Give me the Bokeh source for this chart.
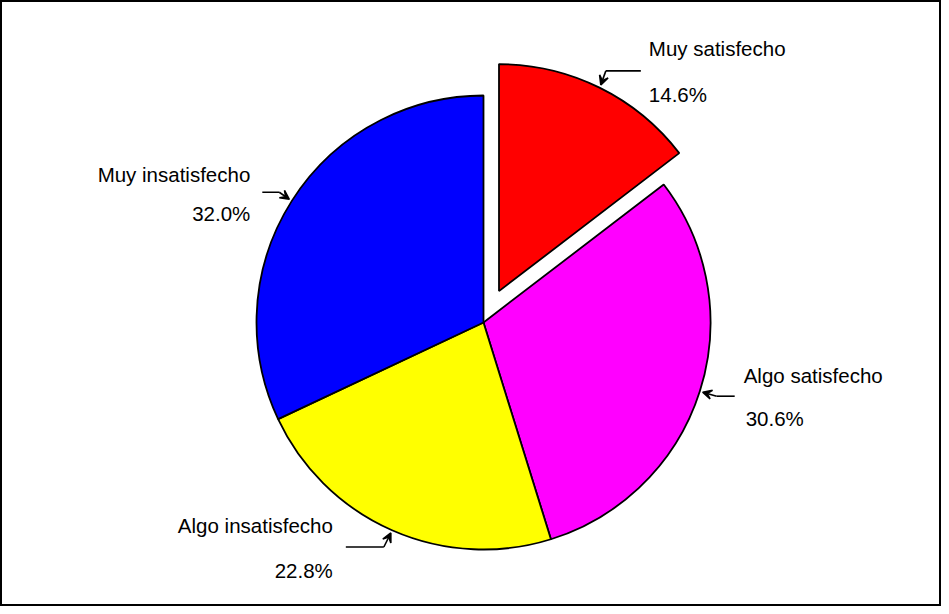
import math
from bokeh.plotting import figure
from bokeh.models import Range1d, Arrow, VeeHead, ColumnDataSource
from bokeh.core.properties import value
from bokeh.embed import file_html
from bokeh.resources import INLINE

# ---- data ----
categories = ["Muy satisfecho", "Algo satisfecho", "Algo insatisfecho", "Muy insatisfecho"]
percents = [14.6, 30.6, 22.8, 32.0]
colors = ["#FF0000", "#FF00FF", "#FFFF00", "#0000FF"]
exploded = [True, False, False, False]

# ---- layout (pixels) ----
W, H = 941, 606
CX, CY = 483, 284          # pie centre
R = 227                    # pie radius
EXPLODE = 35               # offset of the exploded slice
FONT = "Liberation Sans"
FS = "20.5px"
# per slice: elbow offset from arrow tip, horizontal run, text offsets
elbow_off = [(5, 14), (14, -4), (-7, -14), (-10, 7)]
run = [35, 18, -38, -17]
text_dx = [8, 9, -13, -12]
text_dy1 = [22, 21, 22, 18]     # name above the line
text_dy2 = [-24, -22, -23, -21] # percent below the line

p = figure(width=W, height=H, output_backend="svg", toolbar_location=None,
           x_range=Range1d(0, W), y_range=Range1d(0, H), min_border=0)
p.axis.visible = False
p.grid.visible = False
p.background_fill_color = "white"
p.border_fill_color = "white"
p.outline_line_color = "black"
p.outline_line_width = 3

total = sum(percents)
cum = 0.0
xs, ys, starts, ends = [], [], [], []
tips = []
for v, ex in zip(percents, exploded):
    a0 = cum / total
    a1 = (cum + v) / total
    cum += v
    mid = 2 * math.pi * (a0 + a1) / 2     # clockwise from top
    dx = math.sin(mid)
    dy = math.cos(mid)
    off = EXPLODE if ex else 0
    cx = CX + off * dx
    cy = CY + off * dy
    xs.append(cx)
    ys.append(cy)
    starts.append(math.pi / 2 - 2 * math.pi * a0)
    ends.append(math.pi / 2 - 2 * math.pi * a1)
    tips.append((cx + (R + 3) * dx, cy + (R + 3) * dy))

src = ColumnDataSource(dict(x=xs, y=ys, s=starts, e=ends, c=colors))
p.wedge(x="x", y="y", radius=R, start_angle="s", end_angle="e", direction="clock",
        fill_color="c", line_color="black", line_width=1.8, source=src)

for i, cat in enumerate(categories):
    tx, ty = tips[i]
    ex_, ey_ = tx + elbow_off[i][0], ty + elbow_off[i][1]
    sx = ex_ + run[i]
    p.segment(x0=[sx], y0=[ey_], x1=[ex_], y1=[ey_], line_color="black", line_width=1.6)
    p.add_layout(Arrow(end=VeeHead(size=9, line_color="black", line_width=1.6, fill_color="black"),
                       x_start=ex_, y_start=ey_, x_end=tx, y_end=ty,
                       line_color="black", line_width=1.6))
    align = "left" if run[i] > 0 else "right"
    lx = sx + text_dx[i]
    p.text(x=[lx], y=[ey_ + text_dy1[i]], text=[cat], text_align=align,
           text_baseline="middle", text_font=value(FONT), text_font_size=FS,
           text_color="black")
    p.text(x=[lx + (2 if i == 1 else 0)], y=[ey_ + text_dy2[i]], text=["%.1f%%" % percents[i]],
           text_align=align, text_baseline="middle", text_font=value(FONT),
           text_font_size=FS, text_color="black")

open("out.html", "w").write(file_html(p, INLINE))
